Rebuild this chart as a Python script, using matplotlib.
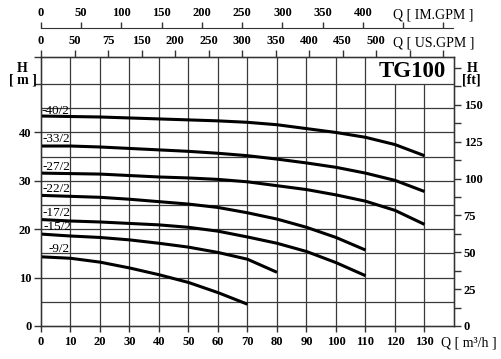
import matplotlib
matplotlib.use("Agg")
import matplotlib.pyplot as plt
from matplotlib.ticker import MultipleLocator

plt.rcParams['font.family'] = ['Liberation Serif', 'DejaVu Serif']

# pump curves, Q in m3/h, H in m
q_long = [0, 10, 20, 30, 40, 50, 60, 70, 80, 90, 100, 110, 120, 130]
q_mid = [0, 10, 20, 30, 40, 50, 60, 70, 80, 90, 100, 110]
q_15 = [0, 10, 20, 30, 40, 50, 60, 70, 80]
q_9 = [0, 10, 20, 30, 40, 50, 60, 70]

h_40_2 = [43.4, 43.3, 43.2, 43.0, 42.8, 42.6, 42.4, 42.1, 41.6, 40.8, 40.0, 39.0, 37.5, 35.2]
h_33_2 = [37.2, 37.2, 37.0, 36.7, 36.4, 36.1, 35.7, 35.2, 34.5, 33.7, 32.8, 31.6, 30.1, 27.8]
h_27_2 = [31.6, 31.5, 31.4, 31.1, 30.8, 30.6, 30.3, 29.8, 29.0, 28.2, 27.1, 25.8, 23.9, 21.0]
h_22_2 = [27.0, 26.8, 26.6, 26.2, 25.7, 25.2, 24.5, 23.4, 22.1, 20.4, 18.3, 15.7]
h_17_2 = [22.0, 21.7, 21.5, 21.2, 20.9, 20.4, 19.6, 18.4, 17.1, 15.4, 13.1, 10.4]
h_15_2 = [19.0, 18.6, 18.3, 17.8, 17.1, 16.3, 15.2, 13.8, 11.1]
h_9_2 = [14.3, 14.0, 13.2, 12.0, 10.6, 9.0, 6.9, 4.5]

curves = [
    ("-40/2", q_long, h_40_2, 0.3, 44.5),
    ("-33/2", q_long, h_33_2, 0.6, 38.6),
    ("-27/2", q_long, h_27_2, 0.6, 32.8),
    ("-22/2", q_mid, h_22_2, 0.6, 28.4),
    ("-17/2", q_mid, h_17_2, 0.6, 23.3),
    ("-15/2", q_15, h_15_2, 0.7, 20.5),
    ("-9/2", q_9, h_9_2, 2.7, 15.9),
]

x_ticks = list(range(0, 131, 10))
us_ticks = list(range(0, 601, 50))
us_labels = ["0", "50", "75", "150", "200", "250", "300", "350", "400", "450", "500", "", ""]
im_ticks = list(range(0, 501, 50))
im_labels = ["0", "50", "100", "150", "200", "250", "300", "350", "400", "", ""]

W, H = 502, 359
fig = plt.figure(figsize=(W / 100, H / 100), dpi=100)
left, right, bottom, top = 41 / W, 454 / W, 1 - 326 / H, 1 - 57 / H
ax = fig.add_axes([left, bottom, right - left, top - bottom])

xmax, ymax = 140, 55.6
ax.set_xlim(0, xmax)
ax.set_ylim(0, ymax)

gcol = '#3a3a3a'
for y in range(5, 51, 5):
    ax.axhline(y, color=gcol, lw=0.9, zorder=1)
for x in range(10, 111, 10):
    ax.vlines(x, 0, ymax, color=gcol, lw=0.9, zorder=1)
for x in (120, 130):
    ax.vlines(x, 0, 50, color=gcol, lw=0.9, zorder=1)

for name, q, h, tx, ty in curves:
    ax.plot(q, h, color='black', lw=2.2, zorder=3, solid_capstyle='butt')
    ax.text(tx, ty, name, fontsize=9.5, va='center', ha='left', color='black')

ax.text(126, 52.7, "TG100", fontsize=16.5, fontweight='bold', ha='center', va='center')

tick_font = dict(fontsize=9, fontweight='bold')
for sp in ax.spines.values():
    sp.set_color('#333333')
    sp.set_linewidth(1.0)

ax.set_xticks(x_ticks)
ax.set_xticklabels([str(v) for v in x_ticks], **tick_font)
ax.set_yticks([0, 10, 20, 30, 40, 50, ymax])
ax.set_yticklabels(["0", "10", "20", "30", "40", "", ""], **tick_font)
ax.tick_params(axis='x', length=4, width=1, pad=3, color='#333333')
ax.tick_params(axis='y', length=5, width=1, pad=2, color='#333333')

# right axis in ft
ax_ft = ax.twinx()
ax_ft.set_ylim(0, ymax * 3.28084)
ax_ft.set_yticks([0, 25, 50, 75, 100, 125, 150])
ax_ft.set_yticklabels(["0", "25", "50", "75", "100", "125", "150"], **tick_font)
ax_ft.yaxis.set_minor_locator(MultipleLocator(12.5))
ax_ft.tick_params(axis='y', which='both', length=5, width=1, pad=2, color='#333333')
for sp in ax_ft.spines.values():
    sp.set_color('#333333')

# top axis US.GPM
ax_us = ax.twiny()
ax_us.set_xlim(0, xmax * 4.40287)
ax_us.set_xticks(us_ticks)
ax_us.set_xticklabels(us_labels, **tick_font)
ax_us.tick_params(axis='x', length=5, width=1, pad=2, color='#333333')
for sp in ax_us.spines.values():
    sp.set_color('#333333')

# IM.GPM scale line
ax_im = fig.add_axes([left, 1 - 27.7 / H, (453 - 41) / W, 0.0001])
ax_im.set_xlim(0, xmax * 3.66615 * (453 - 41) / (454 - 41))
ax_im.patch.set_visible(False)
for k in ('left', 'right', 'bottom'):
    ax_im.spines[k].set_visible(False)
ax_im.spines['top'].set_color('#333333')
ax_im.set_yticks([])
ax_im.xaxis.tick_top()
ax_im.set_xticks(im_ticks)
ax_im.set_xticklabels(im_labels, **tick_font)
ax_im.tick_params(axis='x', length=4, width=1, pad=2, color='#333333')

# axis captions
lab = dict(fontsize=10, fontweight='bold', ha='center', va='center')
fig.text(22.5 / W, 1 - 68 / H, "H", **lab)
fig.text(22.5 / W, 1 - 80 / H, "[ m ]", **lab)
fig.text(472 / W, 1 - 68 / H, "H", **lab)
fig.text(471 / W, 1 - 80 / H, "[ft]", **lab)
cap = dict(fontsize=10, ha='left', va='center')
fig.text(441 / W, 1 - 343 / H, "Q [ m³/h ]", **cap)
fig.text(393 / W, 1 - 43 / H, "Q [ US.GPM ]", **cap)
fig.text(393 / W, 1 - 15 / H, "Q [ IM.GPM ]", **cap)

fig.savefig("out.png", dpi=100)
